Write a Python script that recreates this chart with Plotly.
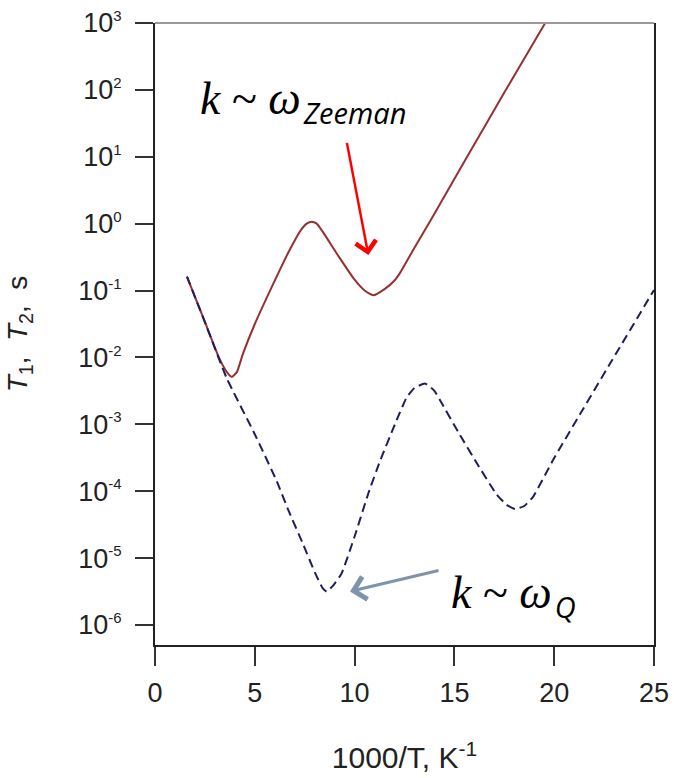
import plotly.graph_objects as go

# ---- data ----
t1_x = [1.6, 2.5, 3.2, 3.6, 3.84, 4.1, 4.4, 5.0, 5.8, 6.7, 7.3, 7.6, 7.85, 8.1, 8.4, 9.2,
        10.0, 10.5, 10.94, 11.5, 12.0, 12.27, 13.0, 14.0, 15.6, 17.5, 19.55]
t1_y = [0.162, 0.0339, 0.0100, 0.00603, 0.00513, 0.00603, 0.0112, 0.0316, 0.105, 0.380,
        0.794, 1.0, 1.07, 1.0, 0.759, 0.324, 0.145, 0.100, 0.0851, 0.105, 0.141, 0.182,
        0.437, 1.41, 9.55, 91.2, 1000]

t2_x = [1.6, 2.6, 3.59, 5.0, 6.1, 6.68, 7.4, 8.02, 8.4, 8.6, 8.9, 9.35, 10.0, 10.69, 11.27,
        12.02, 12.6, 13.0, 13.53, 14.0, 14.28, 15.2, 16.12, 17.12, 17.6, 18.04, 18.5, 18.95,
        19.95, 21.29, 22.8, 25.0]
t2_y = [0.162, 0.0282, 0.0049, 7.1e-4, 1.41e-4, 5.2e-5, 1.66e-5, 6.0e-6, 3.55e-6, 3.16e-6,
        3.8e-6, 5.9e-6, 2.1e-5, 9.3e-5, 2.8e-4, 1.0e-3, 2.5e-3, 3.5e-3, 4.07e-3, 3.16e-3,
        2.29e-3, 7.6e-4, 2.63e-4, 8.9e-5, 6.3e-5, 5.4e-5, 6.0e-5, 8.3e-5, 2.95e-4, 1.41e-3,
        8.1e-3, 0.102]

x_ticks = [0, 5, 10, 15, 20, 25]
y_exponents = [-6, -5, -4, -3, -2, -1, 0, 1, 2, 3]

y_tickvals = [10.0 ** e for e in y_exponents]
y_ticktext = ['10<sup><span style="font-size:15px">%d</span></sup>' % e for e in y_exponents]

fig = go.Figure()
fig.add_trace(go.Scatter(x=t1_x, y=t1_y, mode="lines",
                         line=dict(color="#973030", width=2, shape="spline", smoothing=0.5),
                         showlegend=False))
fig.add_trace(go.Scatter(x=t2_x, y=t2_y, mode="lines",
                         line=dict(color="#1e1e5e", width=2, dash="9px,5px", shape="spline", smoothing=0.4),
                         showlegend=False))

axis_font = dict(family="Liberation Sans, Arial, sans-serif", size=27, color="#222")

fig.update_xaxes(range=[0, 25], tickvals=x_ticks, ticks="outside", ticklen=19, tickwidth=2,
                 tickcolor="#333", showline=True, linecolor="#222", linewidth=2,
                 showgrid=False, zeroline=False, tickfont=axis_font, ticklabelstandoff=4,
                 automargin=False, ticklabeloverflow="allow",
                 title=dict(text="1000/T, K<sup>-1</sup>",
                            font=dict(family="Liberation Sans, Arial, sans-serif", size=30, color="#222"),
                            standoff=40))
fig.update_yaxes(type="log", range=[-6.3, 3.0], tickvals=y_tickvals, ticktext=y_ticktext,
                 ticks="outside", ticklen=18, tickwidth=2, tickcolor="#333",
                 showline=True, linecolor="#222", linewidth=2, mirror=True,
                 showgrid=False, zeroline=False, tickfont=axis_font, ticklabelstandoff=8,
                 automargin=False, ticklabeloverflow="allow",
                 title=dict(text="<i>T</i><sub>1</sub>,&nbsp; <i>T</i><sub>2</sub>,&nbsp; s",
                            font=dict(family="Liberation Sans, Arial, sans-serif", size=28, color="#222"),
                            standoff=42))

fig.add_shape(type="line", xref="paper", yref="paper", x0=0, x1=1, y0=1, y1=1,
              line=dict(color="#999", width=2))

math_font = "Liberation Serif, DejaVu Serif, serif"
sub_style = "font-family:'Open Sans';font-size:29px"
fig.add_annotation(xref="paper", yref="paper", x=0.086, y=0.872, xanchor="left", yanchor="middle",
                   showarrow=False,
                   text="<i>k</i> ~ <i>ω</i><sub><i><span style=\"%s\">&#8202;Zeeman</span></i></sub>" % sub_style,
                   font=dict(family=math_font, size=46, color="#000"))
fig.add_annotation(xref="paper", yref="paper", x=0.590, y=0.078, xanchor="left", yanchor="middle",
                   showarrow=False,
                   text="<i>k</i> ~ <i>ω</i><sub><i><span style=\"%s\">&#8202;Q</span></i></sub>" % sub_style,
                   font=dict(family=math_font, size=46, color="#000"))

# arrows
fig.add_annotation(x=10.69, y=-0.47, ax=9.6, ay=1.23, xref="x", yref="y", axref="x", ayref="y",
                   text="", showarrow=True, arrowhead=4, arrowsize=1.6, arrowwidth=2.5,
                   arrowcolor="#ff0000", standoff=0)
fig.add_annotation(x=9.77, y=-5.5, ax=14.28, ay=-5.18, xref="x", yref="y", axref="x", ayref="y",
                   text="", showarrow=True, arrowhead=4, arrowsize=1.5, arrowwidth=3,
                   arrowcolor="#7f93ad", standoff=0)

fig.update_layout(width=674, height=778, margin=dict(l=155, r=20, t=23, b=133),
                  plot_bgcolor="white", paper_bgcolor="white", hovermode=False)

# remove the default page margin so the figure fills the window exactly
fig.write_html("out.html", config={"displayModeBar": False},
               post_script="document.body.style.margin='0';")
